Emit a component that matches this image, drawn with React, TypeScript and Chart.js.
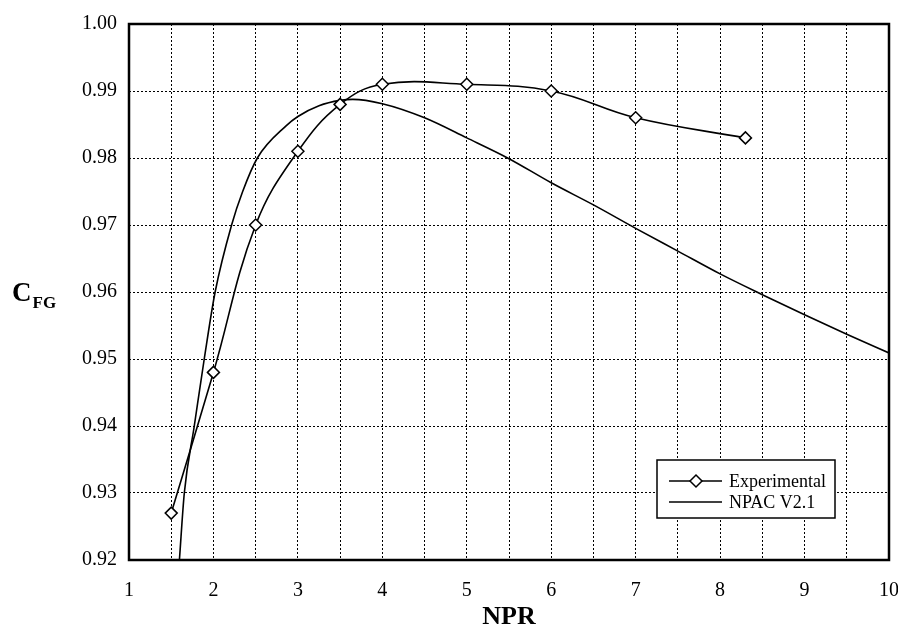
import React, { useEffect, useRef } from "react";
import { Chart, registerables } from "chart.js";

Chart.register(...registerables);

// Experimental data
const expNPR = [1.5, 2, 2.5, 3, 3.5, 4, 5, 6, 7, 8.3];
const expCFG = [0.927, 0.948, 0.970, 0.981, 0.988, 0.991, 0.991, 0.990, 0.986, 0.983];

// NPAC V2.1 prediction
const npacNPR = [1.597, 1.655, 1.773, 1.891, 2.02, 2.215, 2.346, 2.52, 2.86, 3, 3.25, 3.5, 3.65, 4, 4.5, 5, 5.5, 6, 6.5, 7, 7.5, 8, 8.5, 9, 9.5, 10];
const npacCFG = [0.92, 0.93, 0.94, 0.95, 0.96, 0.97, 0.975, 0.98, 0.9848, 0.9862, 0.9878, 0.9886, 0.98875, 0.9881, 0.986, 0.983, 0.9799, 0.9763, 0.973, 0.9695, 0.9661, 0.9627, 0.9596, 0.9566, 0.9537, 0.9509];

const seriesLabels = ["Experimental", "NPAC V2.1"];
const xTitle = "NPR";
const yTitleMain = "C";
const yTitleSub = "FG";

const SERIF = "'Liberation Serif', 'Times New Roman', serif";

export default function App() {
  const ref = useRef<HTMLCanvasElement>(null);

  useEffect(() => {
    document.body.style.margin = "0";
    const canvas = ref.current;
    if (!canvas) return;

    const framePlugin = {
      id: "frame",
      afterDraw(chart: any) {
        const { ctx, chartArea: ca } = chart;
        ctx.save();
        ctx.strokeStyle = "#000";
        ctx.lineWidth = 2.5;
        ctx.setLineDash([]);
        ctx.strokeRect(ca.left, ca.top, ca.right - ca.left, ca.bottom - ca.top);
        ctx.restore();
      },
    };

    const yTitlePlugin = {
      id: "yTitle",
      afterDraw(chart: any) {
        const { ctx, chartArea: ca } = chart;
        const cy = (ca.top + ca.bottom) / 2;
        ctx.save();
        ctx.fillStyle = "#000";
        ctx.textAlign = "left";
        ctx.textBaseline = "alphabetic";
        ctx.font = `bold 27px ${SERIF}`;
        ctx.fillText(yTitleMain, 12, cy + 9);
        const w = ctx.measureText(yTitleMain).width;
        ctx.font = `bold 17px ${SERIF}`;
        ctx.fillText(yTitleSub, 12 + w + 1, cy + 16);
        ctx.restore();
      },
    };

    const legendPlugin = {
      id: "boxLegend",
      afterDraw(chart: any) {
        const { ctx, chartArea: ca } = chart;
        const x0 = ca.right - 232;
        const y0 = ca.bottom - 100;
        const w = 178;
        const h = 58;
        ctx.save();
        ctx.fillStyle = "#fff";
        ctx.fillRect(x0, y0, w, h);
        ctx.strokeStyle = "#000";
        ctx.lineWidth = 1.5;
        ctx.setLineDash([]);
        ctx.strokeRect(x0, y0, w, h);
        const ds = chart.data.datasets;
        ds.forEach((d: any, i: number) => {
          const cy = y0 + 21 + i * 21;
          ctx.strokeStyle = "#000";
          ctx.lineWidth = 1.5;
          ctx.beginPath();
          ctx.moveTo(x0 + 12, cy);
          ctx.lineTo(x0 + 65, cy);
          ctx.stroke();
          if (d.pointRadius > 0) {
            const mx = x0 + 39;
            const r = 6;
            ctx.beginPath();
            ctx.moveTo(mx - r, cy);
            ctx.lineTo(mx, cy - r);
            ctx.lineTo(mx + r, cy);
            ctx.lineTo(mx, cy + r);
            ctx.closePath();
            ctx.fillStyle = "#fff";
            ctx.fill();
            ctx.stroke();
          }
          ctx.fillStyle = "#000";
          ctx.font = `18px ${SERIF}`;
          ctx.textAlign = "left";
          ctx.textBaseline = "middle";
          ctx.fillText(d.label, x0 + 72, cy + 1);
        });
        ctx.restore();
      },
    };

    const chart = new Chart(canvas, {
      type: "line",
      data: {
        datasets: [
          {
            label: seriesLabels[0],
            data: expNPR.map((x, i) => ({ x, y: expCFG[i] })),
            borderColor: "#000",
            borderWidth: 1.6,
            tension: 0.4,
            pointStyle: "rectRot",
            pointRadius: 6,
            pointBackgroundColor: "#fff",
            pointBorderColor: "#000",
            pointBorderWidth: 1.5,
            fill: false,
            order: 0,
          },
          {
            label: seriesLabels[1],
            data: npacNPR.map((x, i) => ({ x, y: npacCFG[i] })),
            borderColor: "#000",
            borderWidth: 1.6,
            cubicInterpolationMode: "monotone",
            pointRadius: 0,
            fill: false,
            order: 1,
          },
        ],
      },
      options: {
        responsive: false,
        animation: false,
        layout: { padding: { left: 0, right: 9, top: 23, bottom: 0 } },
        plugins: {
          legend: { display: false },
          tooltip: { enabled: false },
        },
        scales: {
          x: {
            type: "linear",
            min: 1,
            max: 10,
            ticks: {
              stepSize: 0.5,
              autoSkip: false,
              maxRotation: 0,
              padding: 19,
              color: "#000",
              font: { family: SERIF, size: 20 },
              callback: (v: any) => (Number.isInteger(Number(v)) ? String(v) : ""),
            },
            grid: { color: "#000", lineWidth: 1, drawTicks: false },
            border: { display: false, dash: [2, 2] },
            title: {
              display: true,
              text: xTitle,
              color: "#000",
              font: { family: SERIF, size: 26, weight: "bold" },
              padding: { top: 0, bottom: 0 },
            },
            afterFit: (s: any) => {
              s.height = 73;
              s.paddingLeft = 0;
              s.paddingRight = 0;
            },
          },
          y: {
            type: "linear",
            min: 0.92,
            max: 1.0,
            ticks: {
              stepSize: 0.01,
              padding: 12,
              color: "#000",
              font: { family: SERIF, size: 20 },
              callback: (v: any) => Number(v).toFixed(2),
            },
            grid: { color: "#000", lineWidth: 1, drawTicks: false },
            border: { display: false, dash: [2, 2] },
            afterFit: (s: any) => {
              s.width = 129;
            },
          },
        },
      },
      plugins: [framePlugin, yTitlePlugin, legendPlugin],
    } as any);

    return () => chart.destroy();
  }, []);

  return (
    <div style={{ position: "absolute", left: 0, top: 0, width: 898, height: 633, background: "#fff" }}>
      <canvas ref={ref} width={898} height={633} style={{ display: "block" }} />
    </div>
  );
}
